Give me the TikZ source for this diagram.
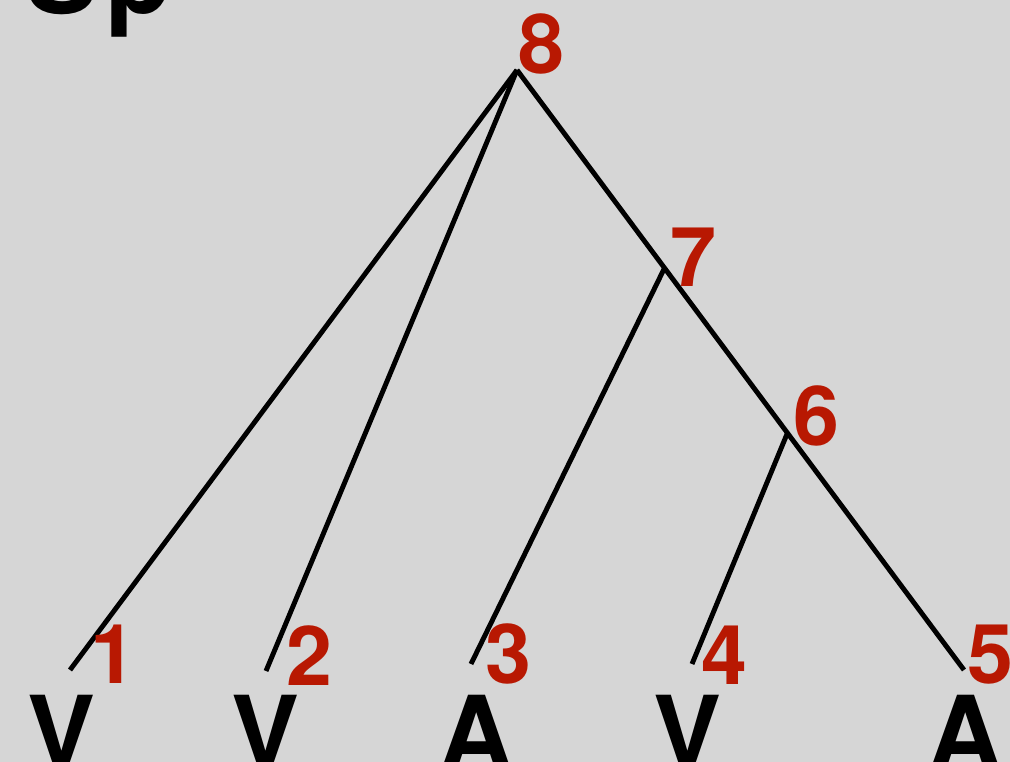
\documentclass[tikz,border=0pt]{standalone}
\usepackage{fontspec}
\setmainfont{TeX Gyre Heros}
\usepackage{xcolor}
\usetikzlibrary{positioning, calc}
\definecolor{bggray}{RGB}{214,214,214}
\definecolor{numred}{RGB}{184,24,2}

\begin{document}
\begin{tikzpicture}[
    branch/.style={line width=2.8pt, line cap=butt},
    num/.style={text=numred, inner sep=0, font=\fontsize{47}{47}\selectfont\bfseries},
    leaf/.style={inner sep=0, anchor=north, font=\fontsize{58}{58}\selectfont\bfseries}
]
    \fill[bggray] (0,0) rectangle (20.2,15.24);
    \useasboundingbox (0,0) rectangle (20.2,15.24);

    % Title (cut off)
    \node[inner sep=0, anchor=base west, font=\fontsize{62}{62}\selectfont\bfseries] (title) at (0.50,14.96) {S\kern0.07em p};

    % Junctions and leaf ends
    \coordinate (n8) at (10.34,13.84);
    \coordinate (l1) at (1.40,1.84);
    \coordinate (l2) at (5.32,1.82);
    \coordinate (l3) at (9.42,1.96);
    \coordinate (l4) at (13.84,1.96);
    \coordinate (l5) at (19.28,1.84);
    \coordinate (n7) at ($(n8)!0.33!(l5)$);
    \coordinate (n6) at ($(n8)!0.605!(l5)$);

    % Connections
    \draw[branch] (n8) -- (l1);
    \draw[branch] (n8) -- (l2);
    \draw[branch] (n8) -- (l5);
    \draw[branch] (n7) -- (l3);
    \draw[branch] (n6) -- (l4);

    % Numbers
    \node[num] (k8) at (10.82,14.36) {8};
    \node[num] (k7) at (13.86,10.10) {7};
    \node[num] (k6) at (16.32,6.92) {6};
    \node[num] (k1) at (2.26,2.16) {1};
    \node[num] (k2) at (6.18,2.12) {2};
    \node[num] (k3) at (10.16,2.16) {3};
    \node[num] (k4) at (14.48,2.14) {4};
    \node[num] (k5) at (19.80,2.14) {5};

    % Leaves
    \node[leaf] (v1) at (1.22,1.34) {V};
    \node[leaf] (v2) at (5.30,1.34) {V};
    \node[leaf] (a3) at (9.52,1.34) {A};
    \node[leaf] (v4) at (13.74,1.34) {V};
    \node[leaf] (a5) at (19.30,1.34) {A};
\end{tikzpicture}
\end{document}
